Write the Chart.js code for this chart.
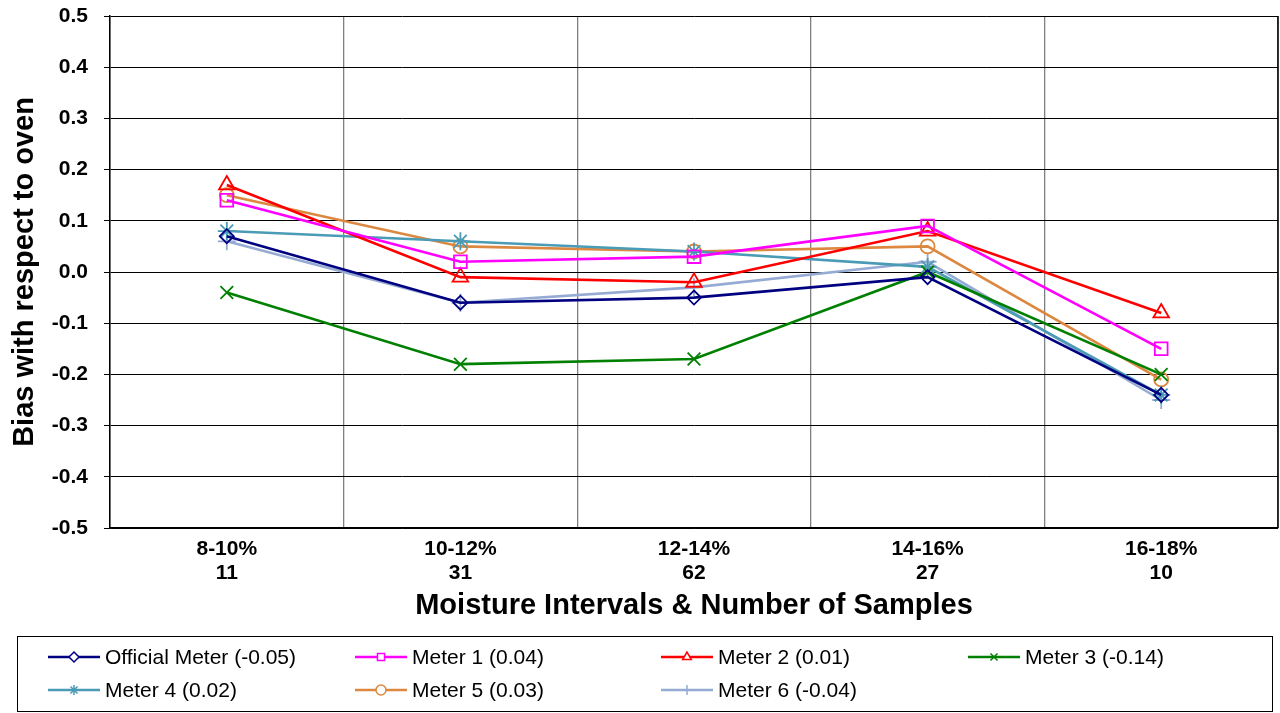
<!DOCTYPE html>
<html>
<head>
<meta charset="utf-8">
<script src="https://cdn.jsdelivr.net/npm/chart.js@4/dist/chart.umd.min.js"></script>
<style>
  html, body { margin: 0; padding: 0; background: #fff; }
  #wrap { width: 1280px; height: 713px; }
</style>
</head>
<body>
<div id="wrap"><canvas id="myChart" width="1280" height="713"></canvas></div>
<script>
// categories: moisture interval + number of samples
const labels = [['8-10%', '11'], ['10-12%', '31'], ['12-14%', '62'], ['14-16%', '27'], ['16-18%', '10']];

const officialMeter = [0.07, -0.06, -0.05, -0.01, -0.24];
const meter1 = [0.14, 0.02, 0.03, 0.09, -0.15];
const meter2 = [0.17, -0.01, -0.02, 0.08, -0.08];
const meter3 = [-0.04, -0.18, -0.17, 0.00, -0.20];
const meter4 = [0.08, 0.06, 0.04, 0.01, -0.24];
const meter5 = [0.15, 0.05, 0.04, 0.05, -0.21];
const meter6 = [0.06, -0.06, -0.03, 0.02, -0.25];

const seriesNames = ['Official Meter (-0.05)', 'Meter 1 (0.04)', 'Meter 2 (0.01)', 'Meter 3 (-0.14)',
                     'Meter 4 (0.02)', 'Meter 5 (0.03)', 'Meter 6 (-0.04)'];

const FONT = "'Liberation Sans', Arial, sans-serif";

function mkSet(label, data, color, style, r) {
  return {
    label: label,
    data: data,
    borderColor: color,
    backgroundColor: 'rgba(0,0,0,0)',
    pointBorderColor: color,
    pointBackgroundColor: 'rgba(0,0,0,0)',
    pointStyle: style,
    pointRadius: r,
    pointHoverRadius: r,
    pointBorderWidth: 1.8,
    borderWidth: 2.6,
    tension: 0
  };
}

const datasets = [
  mkSet(seriesNames[0], officialMeter, '#000080', 'rectRot', 7),
  mkSet(seriesNames[1], meter1, '#FF00FF', 'rect', 9),
  mkSet(seriesNames[2], meter2, '#FF0000', 'triangle', 9),
  mkSet(seriesNames[3], meter3, '#008000', 'crossRot', 9),
  mkSet(seriesNames[4], meter4, '#4A9BB5', 'star', 9),
  mkSet(seriesNames[5], meter5, '#DD8840', 'circle', 7),
  mkSet(seriesNames[6], meter6, '#95ABD3', 'cross', 9)
];

// legend drawn inside a bordered box under the axis title
const boxLegend = {
  id: 'boxLegend',
  afterDraw(chart) {
    const ctx = chart.ctx;
    ctx.save();
    ctx.strokeStyle = '#000';
    ctx.lineWidth = 1;
    ctx.strokeRect(17.5, 636.5, 1255, 75);
    const cols = [48, 355, 661, 968];
    const rows = [657, 690];
    chart.data.datasets.forEach((ds, i) => {
      const x = cols[i % 4];
      const y = rows[Math.floor(i / 4)];
      ctx.strokeStyle = ds.borderColor;
      ctx.lineWidth = 2.5;
      ctx.beginPath();
      ctx.moveTo(x, y);
      ctx.lineTo(x + 52, y);
      ctx.stroke();
      ctx.lineWidth = 1.5;
      ctx.fillStyle = '#fff';
      Chart.helpers.drawPoint(ctx, {
        pointStyle: ds.pointStyle, radius: 5, borderWidth: 1.5, rotation: 0
      }, x + 26, y);
      ctx.fillStyle = '#000';
      ctx.font = '21px ' + FONT;
      ctx.textAlign = 'left';
      ctx.textBaseline = 'middle';
      ctx.fillText(ds.label, x + 57, y + 1);
    });
    // right border of plot area
    const a = chart.chartArea;
    ctx.strokeStyle = '#000';
    ctx.lineWidth = 1.5;
    ctx.beginPath();
    ctx.moveTo(a.right, a.top);
    ctx.lineTo(a.right, a.bottom);
    ctx.stroke();
    ctx.restore();
  }
};

const ctx = document.getElementById('myChart');
const myChart = new Chart(ctx, {
  type: 'line',
  data: { labels: labels, datasets: datasets },
  options: {
    responsive: false,
    animation: false,
    layout: { autoPadding: false, padding: { left: 0, right: 2, top: 16, bottom: 90 } },
    plugins: { legend: { display: false }, tooltip: { enabled: false } },
    scales: {
      x: {
        offset: true,
        grid: { offset: true, color: '#808080', lineWidth: 1.3, drawTicks: false },
        border: { color: '#000', width: 1.5 },
        ticks: { color: '#000', padding: 9, font: { family: FONT, size: 21, weight: 'bold', lineHeight: 1.15 } },
        title: {
          display: true,
          text: 'Moisture Intervals & Number of Samples',
          color: '#000',
          font: { family: FONT, size: 29, weight: 'bold' },
          padding: { top: 0, bottom: 0 }
        },
        afterFit(scale) { scale.height = 95; scale.paddingLeft = 0; scale.paddingRight = 0; }
      },
      y: {
        min: -0.5,
        max: 0.5,
        ticks: {
          stepSize: 0.1,
          color: '#000',
          padding: 16,
          font: { family: FONT, size: 21, weight: 'bold' },
          callback: v => (Math.round(v * 10) / 10).toFixed(1)
        },
        grid: { color: '#000', lineWidth: 1, tickLength: 6 },
        border: { color: '#000', width: 1.5 },
        title: {
          display: true,
          text: 'Bias with respect to oven',
          color: '#000',
          font: { family: FONT, size: 29, weight: 'bold' },
          padding: { top: 8, bottom: 0 }
        },
        afterFit(scale) { scale.width = 110; scale.paddingTop = 0; scale.paddingBottom = 0; }
      }
    }
  },
  plugins: [boxLegend]
});
</script>
</body>
</html>
